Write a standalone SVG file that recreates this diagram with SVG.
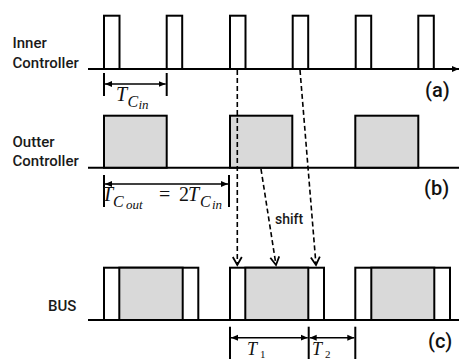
<svg xmlns="http://www.w3.org/2000/svg" width="460" height="359" viewBox="0 0 460 359">
<defs>
<marker id="ax" markerWidth="8" markerHeight="8" refX="7" refY="4" orient="auto" markerUnits="userSpaceOnUse"><path d="M0,1 L7,4 L0,7 Z" fill="#000"/></marker>
<marker id="dh" markerWidth="8" markerHeight="8" refX="7" refY="4" orient="auto-start-reverse" markerUnits="userSpaceOnUse"><path d="M0,1 L7,4 L0,7 Z" fill="#000"/></marker>
<marker id="ch" markerWidth="12" markerHeight="12" refX="9" refY="6" orient="auto" markerUnits="userSpaceOnUse"><path d="M1,1.5 L9,6 L1,10.5" fill="none" stroke="#000" stroke-width="1.8"/></marker>
<style>
.lbl{font-family:Roboto,"Liberation Sans",Arial,sans-serif;font-weight:500;font-size:15px;fill:#1a1a1a}
.tag{font-family:Roboto,"Liberation Sans",Arial,sans-serif;font-weight:500;font-size:20px;fill:#111}
.m{font-family:"Liberation Serif","Times New Roman",serif;font-style:italic;fill:#111}
.mu{font-family:"Liberation Serif","Times New Roman",serif;fill:#111}
.axis{stroke:#000;stroke-width:2;fill:none}
.p{fill:#fff;stroke:#000;stroke-width:2}
.g{fill:#d9d9d9;stroke:#000;stroke-width:2}
.tick{stroke:#000;stroke-width:2}
.dim{stroke:#000;stroke-width:1.5;fill:none}
.dash{stroke:#000;stroke-width:1.6;stroke-dasharray:5,3;fill:none}
</style>
</defs>
<rect width="460" height="359" fill="#fff"/>

<g id="inner">
<text class="lbl" x="12.5" y="48">Inner</text>
<text class="lbl" x="12.5" y="68">Controller</text>
<line class="axis" x1="88" y1="69" x2="459" y2="69" marker-end="url(#ax)"/>
<rect class="p" x="104" y="15.7" width="15.5" height="53.3"/>
<rect class="p" x="166.7" y="15.7" width="15.5" height="53.3"/>
<rect class="p" x="230" y="15.7" width="15.5" height="53.3"/>
<rect class="p" x="292.7" y="15.7" width="15.5" height="53.3"/>
<rect class="p" x="355.7" y="15.7" width="15.5" height="53.3"/>
<rect class="p" x="418.3" y="15.7" width="15.5" height="53.3"/>
<text class="tag" x="425" y="97">(a)</text>
</g>

<g id="outer">
<text class="lbl" x="12.5" y="147">Outter</text>
<text class="lbl" x="12.5" y="166">Controller</text>
<line class="axis" x1="88" y1="167.7" x2="459" y2="167.7"/>
<rect class="g" x="104" y="115.7" width="62.7" height="52"/>
<rect class="g" x="230" y="115.7" width="62.3" height="52"/>
<rect class="g" x="355.3" y="115.7" width="63" height="52"/>
<text class="tag" x="424" y="195">(b)</text>
</g>

<g id="bus">
<text class="lbl" x="48" y="311">BUS</text>
<line class="axis" x1="88" y1="320" x2="459" y2="320"/>
<rect class="p" x="104" y="267.7" width="94.3" height="52.3"/>
<rect class="g" x="119.3" y="267.7" width="63.4" height="52.3"/>
<rect class="p" x="230" y="267.7" width="94" height="52.3"/>
<rect class="g" x="245.3" y="267.7" width="63" height="52.3"/>
<rect class="p" x="355.3" y="267.7" width="94.7" height="52.3"/>
<rect class="g" x="371.3" y="267.7" width="63" height="52.3"/>
<text class="tag" x="428" y="348">(c)</text>
</g>

<g id="dim-cin">
<line class="tick" x1="104" y1="73" x2="104" y2="96"/>
<line class="tick" x1="166.7" y1="73" x2="166.7" y2="96"/>
<line class="dim" x1="105" y1="84" x2="165.7" y2="84" marker-start="url(#dh)" marker-end="url(#dh)"/>
<text class="m" x="116" y="101" font-size="20">T</text>
<text class="m" x="127.5" y="106.5" font-size="16">C</text>
<text class="m" x="138.5" y="109" font-size="13">in</text>
</g>

<g id="dim-cout">
<line class="tick" x1="104" y1="175" x2="104" y2="207"/>
<line class="tick" x1="229" y1="175" x2="229" y2="207"/>
<line class="dim" x1="105" y1="184" x2="228" y2="184" marker-start="url(#dh)" marker-end="url(#dh)"/>
<text class="m" x="102" y="201" font-size="20">T</text>
<text class="m" x="113" y="206.5" font-size="16">C</text>
<text class="m" x="126" y="209" font-size="13">out</text>
<text class="mu" x="159" y="201" font-size="20">=</text>
<text class="mu" x="179" y="201" font-size="20">2</text>
<text class="m" x="188" y="201" font-size="20">T</text>
<text class="m" x="200" y="206.5" font-size="16">C</text>
<text class="m" x="212" y="209" font-size="13">in</text>
</g>

<g id="dim-t">
<line class="tick" x1="230" y1="326.7" x2="230" y2="359"/>
<line class="tick" x1="308.7" y1="326.7" x2="308.7" y2="359"/>
<line class="tick" x1="355.3" y1="326.7" x2="355.3" y2="359"/>
<line class="dim" x1="231" y1="337.7" x2="307.7" y2="337.7" marker-start="url(#dh)" marker-end="url(#dh)"/>
<line class="dim" x1="309.7" y1="337.7" x2="354.3" y2="337.7" marker-start="url(#dh)" marker-end="url(#dh)"/>
<text class="m" x="247" y="355" font-size="18">T</text>
<text class="mu" x="260" y="358" font-size="11">1</text>
<text class="m" x="312" y="355" font-size="18">T</text>
<text class="mu" x="325" y="358" font-size="11">2</text>
</g>

<g id="connectors">
<line class="dash" x1="237.3" y1="70" x2="237.3" y2="265" marker-end="url(#ch)"/>
<line class="dash" x1="300" y1="70" x2="316" y2="265" marker-end="url(#ch)"/>
<line class="dash" x1="261" y1="169" x2="276" y2="265" marker-end="url(#ch)"/>
<text class="lbl" x="275" y="224" style="font-size:14px">shift</text>
</g>
</svg>
